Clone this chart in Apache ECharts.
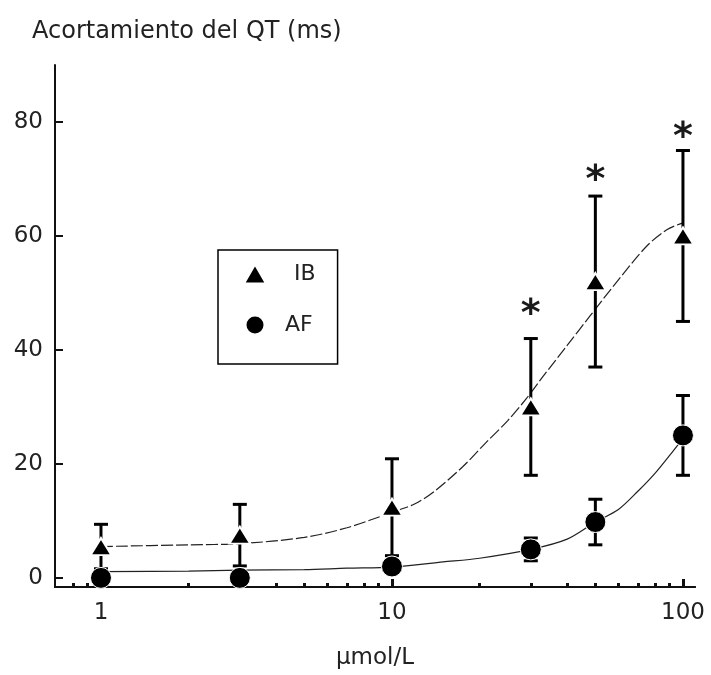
<!DOCTYPE html>
<html>
<head>
<meta charset="utf-8">
<script src="https://cdn.jsdelivr.net/npm/echarts@6/dist/echarts.min.js"></script>
<style>
html, body { margin: 0; padding: 0; background: #fff; }
#chart { width: 711px; height: 675px; }
</style>
</head>
<body>
<div id="chart"></div>
<script>
// doses (µmol/L) and measured QT shortening (ms)
const doses = [1, 3, 10, 30, 50, 100]
const ibMean = [5.5, 7.5, 12.4, 30, 52, 60]
const ibErr = [3.9, 5.4, 8.5, 12, 15, 15]
const afMean = [0, 0, 2, 5, 9.8, 25]
const afErr = [0, 0, 0, 2, 4, 7]

// fitted curves
const ibFitX = [1, 2, 3, 5, 7, 10, 12, 14, 17.5, 21, 25, 29, 33, 40, 48, 60, 75, 88, 100]
const ibFitY = [5.5, 5.8, 6.0, 7.1, 8.8, 11.5, 13.0, 15.2, 19.5, 23.7, 27.6, 31.5, 35.3, 40.8, 46, 52.3, 58.2, 61.1, 62.3]
const afFitX = [1, 2, 3, 5, 7, 10, 15, 20, 30, 40, 50, 60, 70, 80, 90, 100]
const afFitY = [1.1, 1.2, 1.35, 1.45, 1.7, 1.9, 2.8, 3.45, 5.0, 6.8, 9.8, 12.0, 15.2, 18.3, 21.5, 24.5]

// significance marks
const sigX = [30, 50, 100]
const sigY = [47.5, 71, 78.6]

const yTicks = [0, 20, 40, 60, 80]
const xMajor = [1, 10, 100]
const xMinor = [0.8, 0.9, 2, 3, 4, 5, 6, 7, 8, 9, 20, 30, 40, 50, 60, 70, 80, 90]

const font = 'DejaVu Sans'
const ink = '#111'
const textInk = '#222'

function pairs(xs, ys) {
    return xs.map((x, i) => [x, ys[i]])
}

function errorBars(name, mean, err) {
    return {
        type: 'custom',
        name: name,
        z: 3,
        silent: true,
        data: doses.map((d, i) => [d, mean[i] - err[i], mean[i] + err[i]]),
        encode: { x: 0, y: [1, 2] },
        renderItem: (params, api) => {
            const lo = api.coord([api.value(0), api.value(1)])
            const hi = api.coord([api.value(0), api.value(2)])
            const w = 7
            const st = { stroke: '#000', lineWidth: 3 }
            return {
                type: 'group',
                children: [
                    { type: 'line', shape: { x1: lo[0], y1: lo[1], x2: hi[0], y2: hi[1] }, style: st },
                    { type: 'line', shape: { x1: lo[0] - w, y1: lo[1], x2: lo[0] + w, y2: lo[1] }, style: st },
                    { type: 'line', shape: { x1: hi[0] - w, y1: hi[1], x2: hi[0] + w, y2: hi[1] }, style: st }
                ]
            }
        }
    }
}

const xBase = {
    type: 'log',
    min: 0.695,
    max: 110,
    position: 'bottom',
    splitLine: { show: false },
    axisLine: { onZero: false, lineStyle: { color: ink, width: 2 } }
}

const option = {
    animation: false,
    backgroundColor: '#fff',
    title: {
        text: 'Acortamiento del QT (ms)',
        left: 27,
        top: 15,
        textStyle: { fontFamily: font, fontSize: 24, fontWeight: 'normal', color: textInk }
    },
    legend: {
        data: ['IB', 'AF'],
        orient: 'vertical',
        left: 218,
        top: 250,
        padding: [13, 22, 28, 25],
        itemGap: 29,
        itemWidth: 22,
        itemHeight: 19,
        borderColor: '#000',
        borderWidth: 1.5,
        borderRadius: 0,
        formatter: (name) => name === 'IB' ? '{ib|IB}' : '{af|AF}',
        textStyle: {
            fontFamily: font, fontSize: 22, color: textInk,
            rich: {
                ib: { fontFamily: font, fontSize: 22, color: textInk, padding: [0, 0, 0, 23] },
                af: { fontFamily: font, fontSize: 22, color: textInk, padding: [0, 0, 0, 14] }
            }
        }
    },
    grid: { left: 55, right: 16, top: 65, bottom: 85 },
    xAxis: [
        Object.assign({}, xBase, {
            name: 'µmol/L',
            nameLocation: 'middle',
            nameGap: 60,
            nameTextStyle: { fontFamily: font, fontSize: 23, color: textInk },
            axisTick: { inside: true, length: 8, customValues: xMajor, lineStyle: { color: ink, width: 3 } },
            axisLabel: {
                customValues: xMajor, margin: 15,
                fontFamily: font, fontSize: 23, color: textInk,
                formatter: (v) => String(v)
            }
        }),
        Object.assign({}, xBase, {
            axisTick: { inside: true, length: 4, customValues: xMinor, lineStyle: { color: ink, width: 3 } },
            axisLabel: { show: false }
        })
    ],
    yAxis: {
        type: 'value',
        min: -1.6,
        max: 90,
        splitLine: { show: false },
        axisLine: { show: true, lineStyle: { color: ink, width: 2 } },
        axisTick: { show: true, inside: true, length: 8, customValues: yTicks, lineStyle: { color: ink, width: 2 } },
        axisLabel: {
            customValues: yTicks, margin: 12,
            fontFamily: font, fontSize: 23, color: textInk
        }
    },
    series: [
        {
            type: 'line',
            name: 'IB fit',
            z: 1,
            silent: true,
            smooth: 0.3,
            showSymbol: false,
            data: pairs(ibFitX, ibFitY),
            lineStyle: { color: '#222', width: 1.2, type: [12, 3] }
        },
        {
            type: 'line',
            name: 'AF fit',
            z: 1,
            silent: true,
            smooth: 0.3,
            showSymbol: false,
            data: pairs(afFitX, afFitY),
            lineStyle: { color: '#222', width: 1.2 }
        },
        errorBars('IB SD', ibMean, ibErr),
        errorBars('AF SD', afMean, afErr),
        {
            type: 'scatter',
            name: 'IB',
            z: 5,
            symbol: 'triangle',
            symbolSize: [21, 17],
            itemStyle: { color: '#000', opacity: 1, borderColor: '#fff', borderWidth: 2 },
            data: pairs(doses, ibMean)
        },
        {
            type: 'scatter',
            name: 'AF',
            z: 5,
            symbol: 'circle',
            symbolSize: 21,
            itemStyle: { color: '#000', opacity: 1, borderColor: '#fff', borderWidth: 1 },
            data: pairs(doses, afMean)
        },
        {
            type: 'scatter',
            name: 'sig',
            z: 6,
            silent: true,
            symbolSize: 0,
            itemStyle: { opacity: 1 },
            data: pairs(sigX, sigY),
            label: {
                show: true,
                position: 'inside',
                formatter: '*',
                offset: [0, 8],
                fontFamily: font,
                fontSize: 38,
                fontWeight: 'bold',
                color: '#1a1a1a'
            }
        }
    ]
}

const chart = echarts.init(document.getElementById('chart'))
chart.setOption(option)
</script>
</body>
</html>
